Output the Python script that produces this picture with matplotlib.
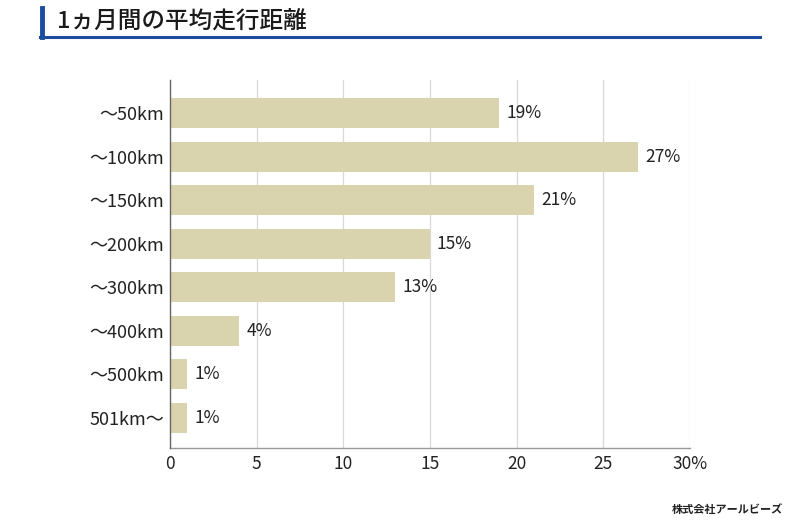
import matplotlib
matplotlib.use('Agg')
import matplotlib.pyplot as plt
from matplotlib.lines import Line2D

plt.rcParams['font.family'] = ['Noto Sans CJK JP', 'DejaVu Sans']

categories = ['〜50km', '〜100km', '〜150km', '〜200km', '〜300km', '〜400km', '〜500km', '501km〜']
values = [19, 27, 21, 15, 13, 4, 1, 1]
xticks = [0, 5, 10, 15, 20, 25, 30]
xticklabels = ['0', '5', '10', '15', '20', '25', '30%']

bar_color = '#dad4ae'
blue = '#1b4d9e'

fig = plt.figure(figsize=(8, 5.21), dpi=100)
ax = fig.add_axes([0.2125, 0.140, 0.65, 0.7064])

ypos = list(range(len(categories)))
ax.barh(ypos, values, height=0.69, color=bar_color, zorder=2)
for y, v in zip(ypos, values):
    ax.text(v + 0.4, y, f'{v}%', va='center', ha='left', fontsize=12.5, color='#222222')

ax.set_xlim(0, 30)
ax.set_ylim(7.69, -0.76)
ax.set_yticks(ypos)
ax.set_yticklabels(categories, fontsize=13, color='#222222')
ax.set_xticks(xticks)
ax.set_xticklabels(xticklabels, fontsize=12.5, color='#222222')
ax.tick_params(length=0, pad=5)
ax.tick_params(axis='y', pad=4)
ax.grid(axis='x', color='#d8d8d8', linewidth=0.9, zorder=0)
for s in ['top', 'right']:
    ax.spines[s].set_visible(False)
ax.spines['left'].set_color('#666666')
ax.spines['left'].set_linewidth(1.0)
ax.spines['bottom'].set_color('#999999')
ax.spines['bottom'].set_linewidth(1.0)
ax.spines['left'].set_zorder(3)

# title with blue marker
fig.text(0.071, 0.957, '1ヵ月間の平均走行距離', fontsize=17, fontweight='medium',
         va='center', ha='left', color='#1a1a1a')
fig.add_artist(Line2D([0.052, 0.052], [0.929, 0.985], color=blue, linewidth=3.5))
fig.add_artist(Line2D([0.05, 0.95], [0.929, 0.929], color=blue, linewidth=2.2))

fig.text(0.979, 0.022, '株式会社アールビーズ', fontsize=8, fontweight='bold',
         fontstyle='italic', ha='right', va='center', color='#222222')

fig.savefig('out.png', dpi=100)
